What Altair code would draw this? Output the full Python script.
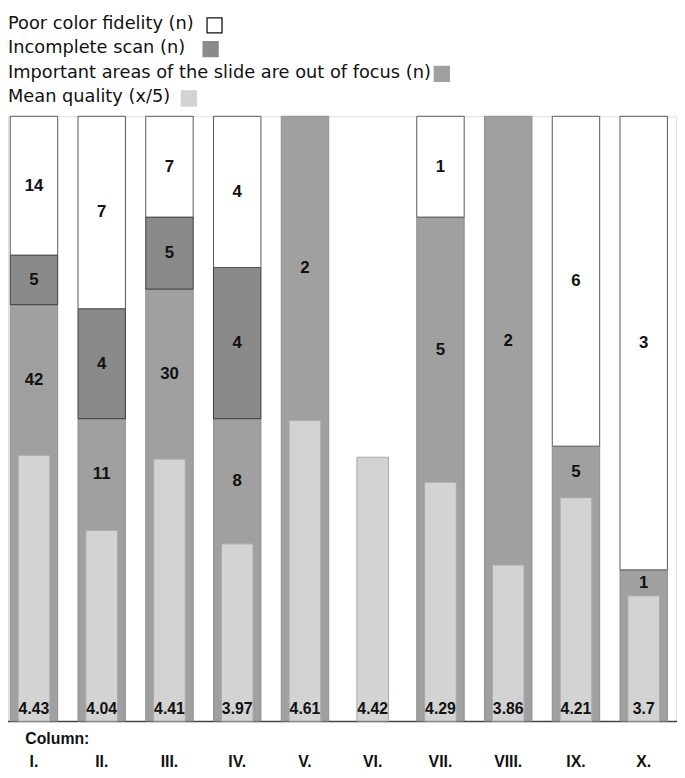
import altair as alt
import pandas as pd

# ---------------- data ----------------
columns = ["I.", "II.", "III.", "IV.", "V.", "VI.", "VII.", "VIII.", "IX.", "X."]
poor_color = [14, 7, 7, 4, 0, 0, 1, 0, 6, 3]
incomplete = [5, 4, 5, 4, 0, 0, 0, 0, 0, 0]
out_of_focus = [42, 11, 30, 8, 2, 0, 5, 2, 5, 1]
mean_quality = [4.43, 4.04, 4.41, 3.97, 4.61, 4.42, 4.29, 3.86, 4.21, 3.7]

# stack order bottom -> top
categories = ["Out of focus", "Incomplete scan", "Poor color fidelity"]
cat_fill = ["#a0a0a0", "#8a8a8a", "#ffffff"]
cat_stroke = ["#8e8e8e", "#3a3a3a", "#555555"]

legend_labels = [
    "Poor color fidelity  (n)",
    "Incomplete scan  (n)",
    "Important areas of the slide are out of focus (n)",
    "Mean quality  (x/5)",
]
legend_fill = ["#ffffff", "#8a8a8a", "#a0a0a0", "#d3d3d3"]
legend_stroke = ["#111111", "#8a8a8a", "#a0a0a0", "#d3d3d3"]

quality_domain = [3.05, 6.19]  # hidden secondary scale of the mean-quality bars

W, H = 676, 612
FONT = "Liberation Sans"
LEGEND_FONT = "DejaVu Sans"

# ---------------- derived tables ----------------
rows = []
for i, c in enumerate(columns):
    counts = [out_of_focus[i], incomplete[i], poor_color[i]]
    total = sum(counts)
    if total == 0:
        continue
    mq = (mean_quality[i] - quality_domain[0]) / (quality_domain[1] - quality_domain[0])
    lo = 0.0
    for cat, n in zip(categories, counts):
        if n == 0:
            continue
        hi = lo + n / total
        if mq < hi:
            ly = (max(lo, mq) + hi) / 2
        else:
            ly = (lo + hi) / 2
        rows.append({"col": c, "cat": cat, "n": n, "lo": lo, "hi": hi, "ly": ly})
        lo = hi
seg = pd.DataFrame(rows)

qdf = pd.DataFrame({"col": columns, "q": mean_quality,
                    "qlabel": [f"{v:g}" for v in mean_quality]})

# ---------------- encodings ----------------
x_enc = alt.X(
    "col:N",
    sort=columns,
    scale=alt.Scale(range=[-8, 677.6], paddingInner=0.3, paddingOuter=0.15),
    axis=alt.Axis(
        title="Column:",
        titleFont=FONT, titleFontSize=16, titleFontWeight="bold", titleColor="#111",
        titleAlign="left", titleAnchor="start", titleBaseline="top",
        titleX=17, titleY=10, titleAngle=0,
        labelFont=FONT, labelFontSize=16, labelFontWeight="bold", labelColor="#111",
        labelPadding=33, labelAngle=0,
        ticks=False, tickSize=0, domain=True, domainColor="#444", domainWidth=1.5,
        grid=False,
    ),
)

frac_scale = alt.Scale(domain=[0, 1])

bars = alt.Chart(seg).mark_bar(strokeWidth=1).encode(
    x=x_enc,
    y=alt.Y("lo:Q", scale=frac_scale, axis=None),
    y2="hi:Q",
    fill=alt.Fill("cat:N", scale=alt.Scale(domain=categories, range=cat_fill), legend=None),
    stroke=alt.Stroke("cat:N", scale=alt.Scale(domain=categories, range=cat_stroke), legend=None),
)

mean_bars = alt.Chart(qdf).mark_bar(size=32, fill="#d3d3d3", stroke="#aaaaaa", strokeWidth=1).encode(
    x=x_enc,
    y=alt.Y("q:Q", scale=alt.Scale(domain=quality_domain), axis=None),
    y2=alt.datum(quality_domain[0]),
)

count_labels = alt.Chart(seg).mark_text(
    font=FONT, fontSize=17, fontWeight="bold", color="#111", baseline="middle"
).encode(
    x=x_enc,
    y=alt.Y("ly:Q", scale=frac_scale, axis=None),
    text="n:Q",
)

# mean labels anchored at the bottom of the plot
mean_labels = alt.Chart(qdf).mark_text(
    font=FONT, fontSize=16, fontWeight="bold", color="#111", baseline="middle", dy=-12
).encode(
    x=x_enc,
    y=alt.Y("zero:Q", scale=frac_scale, axis=None),
    text="qlabel:N",
).transform_calculate(zero="0")

# ---------------- custom legend (above the plot) ----------------
legend_y = [-93, -69, -44, -19]
swatch_x = [209, 205, 439, 183]
legend_layers = []
for i, lab in enumerate(legend_labels):
    legend_layers.append(
        alt.Chart(pd.DataFrame({"t": [lab]})).mark_text(
            font=LEGEND_FONT, fontSize=18, color="#111", align="left", baseline="middle"
        ).encode(x=alt.value(0), y=alt.value(legend_y[i]), text="t:N")
    )
    legend_layers.append(
        alt.Chart(pd.DataFrame({"t": [lab]})).mark_point(
            shape="square", size=230, filled=True, fill=legend_fill[i],
            stroke=legend_stroke[i], strokeWidth=1.3, opacity=1
        ).encode(x=alt.value(swatch_x[i]), y=alt.value(legend_y[i] + 1))
    )

chart = alt.layer(bars, mean_bars, count_labels, mean_labels, *legend_layers).resolve_scale(
    y="independent"
).properties(
    width=W, height=H,
    autosize="none",
    padding={"left": 0, "top": 105, "right": 1, "bottom": 50},
).configure_view(
    stroke="#777", strokeWidth=1
).configure(font=FONT, background="white")

chart.save("out.html", embed_options={"renderer": "svg", "actions": False})
